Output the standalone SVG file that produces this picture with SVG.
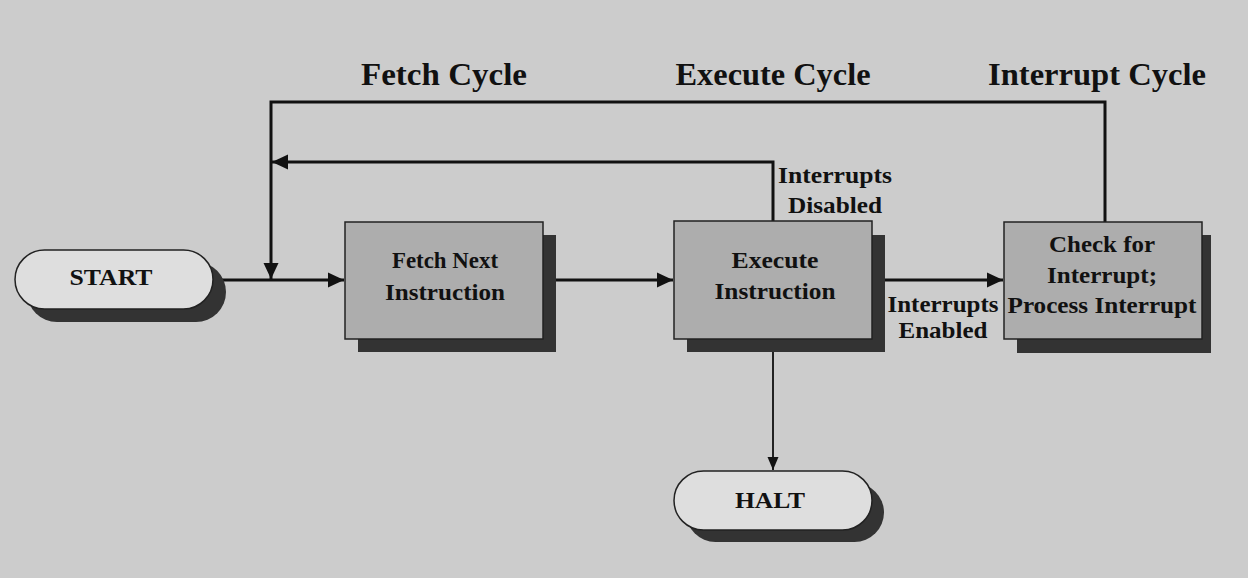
<svg xmlns="http://www.w3.org/2000/svg" width="1248" height="578" viewBox="0 0 1248 578">
<style>
.t{font-family:"Liberation Serif","Times New Roman",serif;font-weight:bold;fill:#111;text-anchor:middle}
.h{font-size:32px}
.n{font-size:24px}
.l{font-size:23px}
.box{fill:#adadad;stroke:#222;stroke-width:1.5}
.pill{fill:#dedede;stroke:#222;stroke-width:1.5}
.sh{fill:#333}
.c{fill:none;stroke:#111;stroke-width:3}
.c2{fill:none;stroke:#222;stroke-width:2}
</style>
<defs>
<marker id="a" markerUnits="userSpaceOnUse" markerWidth="18" markerHeight="18" refX="16" refY="9" orient="auto">
<path d="M0,1.5 L16,9 L0,16.5 Z" fill="#111"/>
</marker>
<marker id="b" markerUnits="userSpaceOnUse" markerWidth="14" markerHeight="14" refX="13" refY="6" orient="auto">
<path d="M0,0.5 L13,6 L0,11.5 Z" fill="#111"/>
</marker>
</defs>
<rect width="1248" height="578" fill="#cccccc"/>
<text class="t h" x="444" y="85" textLength="166" lengthAdjust="spacingAndGlyphs">Fetch Cycle</text>
<text class="t h" x="773" y="85" textLength="195" lengthAdjust="spacingAndGlyphs">Execute Cycle</text>
<text class="t h" x="1097" y="85" textLength="218" lengthAdjust="spacingAndGlyphs">Interrupt Cycle</text>
<g id="connectors">
<path class="c" d="M213,280 H344" marker-end="url(#a)"/>
<path class="c" d="M543,280 H673" marker-end="url(#a)"/>
<path class="c" d="M872,280 H1003" marker-end="url(#a)"/>
<path class="c" d="M1105,222 V102 H271 V279" marker-end="url(#a)"/>
<path class="c" d="M773,221 V162 H272" marker-end="url(#a)"/>
<path class="c2" d="M773,352 V470" marker-end="url(#b)"/>
</g>
<g id="start">
<rect class="sh" x="27" y="262" width="199" height="60" rx="30"/>
<rect class="pill" x="15" y="250" width="198" height="59" rx="29.5"/>
<text class="t n" x="111" y="285" textLength="83" lengthAdjust="spacingAndGlyphs">START</text>
</g>
<g id="fetch">
<rect class="sh" x="358" y="235" width="198" height="117"/>
<rect class="box" x="345" y="222" width="198" height="117"/>
<text class="t n" x="445" y="268" textLength="106" lengthAdjust="spacingAndGlyphs">Fetch Next</text>
<text class="t n" x="445" y="300" textLength="120" lengthAdjust="spacingAndGlyphs">Instruction</text>
</g>
<g id="execute">
<rect class="sh" x="687" y="235" width="198" height="117"/>
<rect class="box" x="674" y="221" width="198" height="118"/>
<text class="t n" x="775" y="268" textLength="87" lengthAdjust="spacingAndGlyphs">Execute</text>
<text class="t n" x="775" y="299" textLength="121" lengthAdjust="spacingAndGlyphs">Instruction</text>
</g>
<g id="interrupt">
<rect class="sh" x="1017" y="235" width="194" height="118"/>
<rect class="box" x="1004" y="222" width="198" height="117"/>
<text class="t n" x="1102" y="252" textLength="106" lengthAdjust="spacingAndGlyphs">Check for</text>
<text class="t n" x="1102" y="283" textLength="110" lengthAdjust="spacingAndGlyphs">Interrupt;</text>
<text class="t n" x="1102" y="313" textLength="189" lengthAdjust="spacingAndGlyphs">Process Interrupt</text>
</g>
<g id="halt">
<rect class="sh" x="686" y="483" width="198" height="59" rx="29.5"/>
<rect class="pill" x="674" y="471" width="198" height="59" rx="29.5"/>
<text class="t n" x="770" y="508" textLength="70" lengthAdjust="spacingAndGlyphs">HALT</text>
</g>
<g id="labels">
<text class="t l" x="835" y="183" textLength="114" lengthAdjust="spacingAndGlyphs">Interrupts</text>
<text class="t l" x="835" y="213" textLength="94" lengthAdjust="spacingAndGlyphs">Disabled</text>
<text class="t l" x="943" y="312" textLength="111" lengthAdjust="spacingAndGlyphs">Interrupts</text>
<text class="t l" x="943" y="338" textLength="89" lengthAdjust="spacingAndGlyphs">Enabled</text>
</g>
</svg>
